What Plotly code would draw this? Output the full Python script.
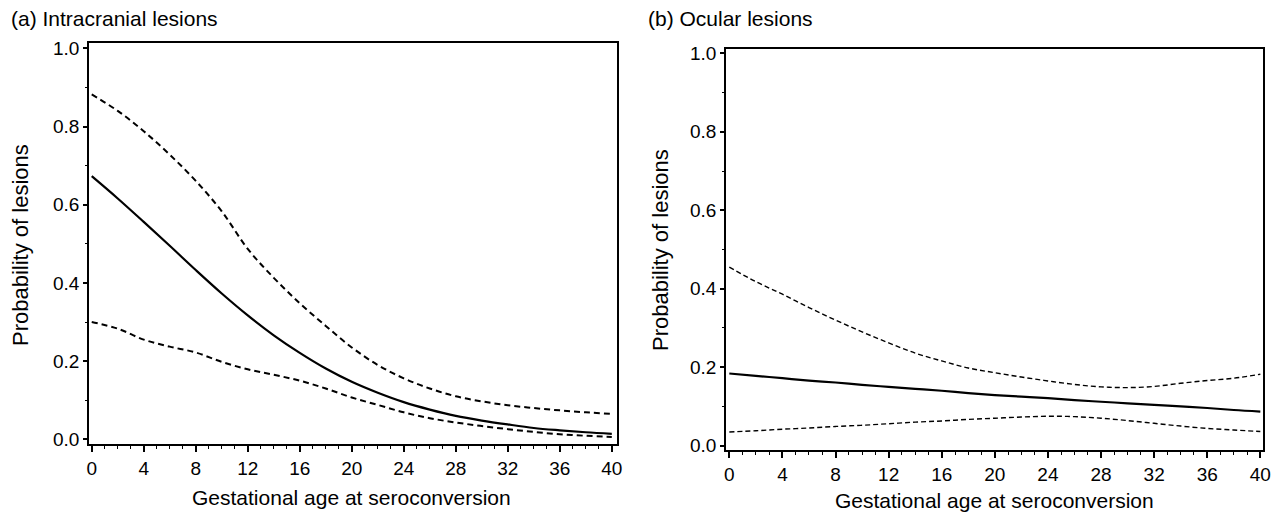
import plotly.graph_objects as go

# ---------------- data ----------------
age = [0, 2, 4, 6, 8, 10, 12, 14, 16, 18, 20, 22, 24, 26, 28, 30, 32, 34, 36, 38, 40]

# (a) Intracranial lesions
intra_est = [0.673, 0.616, 0.556, 0.495, 0.433, 0.373, 0.317, 0.266, 0.221, 0.181, 0.147,
             0.119, 0.095, 0.076, 0.060, 0.048, 0.038, 0.029, 0.023, 0.018, 0.014]
intra_upper = [0.882, 0.840, 0.788, 0.728, 0.661, 0.583, 0.487, 0.413, 0.348, 0.290, 0.235,
               0.190, 0.156, 0.130, 0.110, 0.097, 0.087, 0.080, 0.074, 0.069, 0.065]
intra_lower = [0.300, 0.283, 0.255, 0.237, 0.222, 0.198, 0.179, 0.165, 0.150, 0.130, 0.107,
               0.088, 0.069, 0.054, 0.043, 0.034, 0.026, 0.019, 0.013, 0.009, 0.006]

# (b) Ocular lesions
ocular_est = [0.184, 0.178, 0.172, 0.166, 0.161, 0.155, 0.150, 0.145, 0.140, 0.134, 0.129,
              0.125, 0.121, 0.116, 0.112, 0.108, 0.104, 0.100, 0.096, 0.091, 0.087]
ocular_upper = [0.455, 0.418, 0.386, 0.352, 0.320, 0.290, 0.262, 0.236, 0.216, 0.198, 0.186,
                0.175, 0.165, 0.156, 0.150, 0.148, 0.151, 0.159, 0.166, 0.172, 0.182]
ocular_lower = [0.035, 0.038, 0.042, 0.045, 0.049, 0.052, 0.056, 0.060, 0.063, 0.067, 0.070,
                0.073, 0.075, 0.074, 0.070, 0.064, 0.057, 0.050, 0.044, 0.040, 0.036]

x_ticks = [0, 4, 8, 12, 16, 20, 24, 28, 32, 36, 40]
y_ticks = [0.0, 0.2, 0.4, 0.6, 0.8, 1.0]
y_ticklabels = ["0.0", "0.2", "0.4", "0.6", "0.8", "1.0"]

panel_titles = ["(a) Intracranial lesions", "(b) Ocular lesions"]
x_title = "Gestational age at seroconversion"
y_title = "Probability of lesions"

# ---------------- figure ----------------
W, H = 1280, 513
FONT = "Liberation Sans, Arial, Helvetica, sans-serif"

fig = go.Figure()

# panel a
fig.add_trace(go.Scatter(x=age, y=intra_upper, mode="lines", line=dict(color="black", width=2, dash="6px,4px", shape="spline"), xaxis="x", yaxis="y"))
fig.add_trace(go.Scatter(x=age, y=intra_est, mode="lines", line=dict(color="black", width=2.2, shape="spline"), xaxis="x", yaxis="y"))
fig.add_trace(go.Scatter(x=age, y=intra_lower, mode="lines", line=dict(color="black", width=2, dash="6px,4px", shape="spline"), xaxis="x", yaxis="y"))
# panel b
fig.add_trace(go.Scatter(x=age, y=ocular_upper, mode="lines", line=dict(color="black", width=1.4, dash="5px,3px", shape="spline"), xaxis="x2", yaxis="y2"))
fig.add_trace(go.Scatter(x=age, y=ocular_est, mode="lines", line=dict(color="black", width=2.2, shape="spline"), xaxis="x2", yaxis="y2"))
fig.add_trace(go.Scatter(x=age, y=ocular_lower, mode="lines", line=dict(color="black", width=1.4, dash="5px,3px", shape="spline"), xaxis="x2", yaxis="y2"))


def xaxis(domain, anchor, rng):
    return dict(domain=domain, anchor=anchor, range=rng, showgrid=False, zeroline=False,
                showline=True, linecolor="black", linewidth=1.8, mirror=True,
                ticks="outside", ticklen=6, tickwidth=1.5, tickcolor="black",
                tickmode="array", tickvals=x_ticks, ticktext=[str(v) for v in x_ticks],
                tickfont=dict(family=FONT, size=19, color="black"), automargin=False,
                minor=dict(ticks="outside", ticklen=3, tickwidth=1.3, tickcolor="black", dtick=1, tick0=0, showgrid=False))


def yaxis(domain, anchor, rng):
    return dict(domain=domain, anchor=anchor, range=rng, showgrid=False, zeroline=False,
                showline=True, linecolor="black", linewidth=1.8, mirror=True,
                ticks="outside", ticklen=4, tickwidth=1.5, tickcolor="black",
                tickmode="array", tickvals=y_ticks, ticktext=y_ticklabels,
                tickfont=dict(family=FONT, size=19, color="black"), automargin=False,
                minor=dict(ticks="outside", ticklen=2, tickwidth=1.3, tickcolor="black", dtick=0.1, tick0=0, showgrid=False))


fig.update_layout(
    width=W, height=H, autosize=False, margin=dict(l=0, r=0, t=0, b=0, pad=0),
    paper_bgcolor="white", plot_bgcolor="white", showlegend=False,
    font=dict(family=FONT, color="black"),
    xaxis=xaxis([89 / W, 617 / W], "y", [-0.21, 40.4]),
    yaxis=yaxis([1 - 444 / H, 1 - 43 / H], "x", [-0.012, 1.0136]),
    xaxis2=xaxis([726 / W, 1263 / W], "y2", [-0.25, 40.2]),
    yaxis2=yaxis([1 - 450 / H, 1 - 49 / H], "x2", [-0.011, 1.011]),
)

ann = []
# panel titles
ann.append(dict(text=panel_titles[0], x=9 / W, y=1 - 18 / H, xanchor="left", yanchor="middle", size=21))
ann.append(dict(text=panel_titles[1], x=646 / W, y=1 - 18 / H, xanchor="left", yanchor="middle", size=21))
# x titles
ann.append(dict(text=x_title, x=351 / W, y=1 - 497 / H, xanchor="center", yanchor="middle", size=21))
ann.append(dict(text=x_title, x=(726 + 1263) / 2 / W, y=1 - 500 / H, xanchor="center", yanchor="middle", size=21))
# y titles
ann.append(dict(text=y_title, x=20 / W, y=1 - 245 / H, xanchor="center", yanchor="middle", textangle=-90, size=22))
ann.append(dict(text=y_title, x=660 / W, y=1 - 250 / H, xanchor="center", yanchor="middle", textangle=-90, size=22))
for a in ann:
    sz = a.pop("size")
    a.update(xref="paper", yref="paper", showarrow=False, font=dict(family=FONT, size=sz, color="black"))
fig.update_layout(annotations=ann)

fig.write_html(
    "out.html",
    config={"displayModeBar": False},
    post_script="document.body.style.margin='0';document.body.style.overflow='hidden';",
)
